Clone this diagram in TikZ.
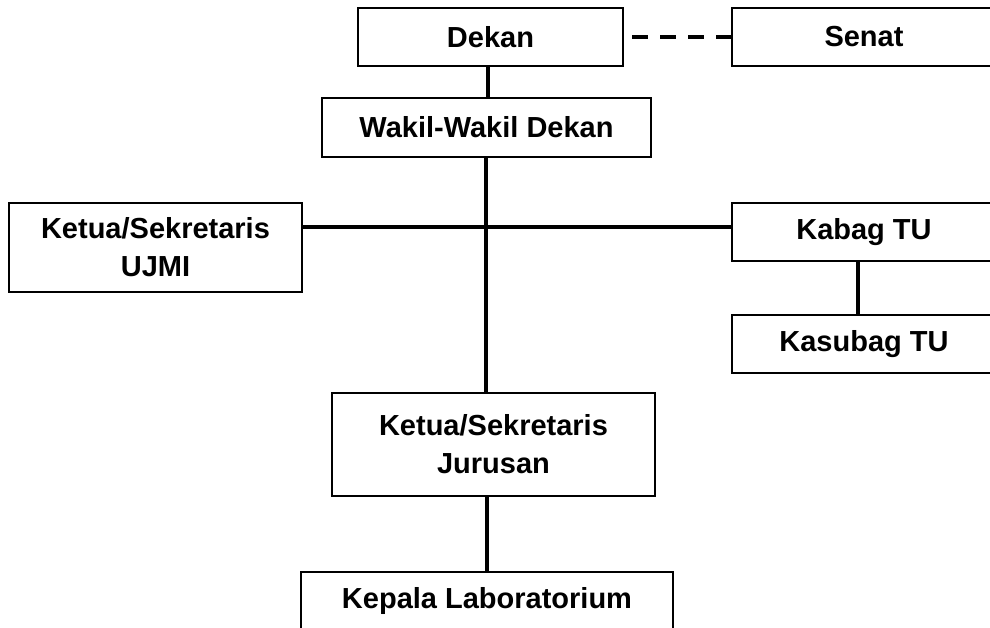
\documentclass[tikz,border=0pt]{standalone}
\usepackage{fontspec}
\setmainfont{Liberation Sans}
\usetikzlibrary{positioning, calc}

\begin{document}
\begin{tikzpicture}[
  x=1pt, y=-1pt,
  orgbox/.style={draw=black, fill=white, line width=2pt, inner sep=0pt,
    outer sep=0pt, align=center, minimum height=58pt,
    font=\fontsize{29}{38}\selectfont\bfseries},
  link/.style={draw=black, line width=3.3pt},
]

% Frame
\path[use as bounding box, clip] (0,0) rectangle (990,628);
\fill[white] (0,0) rectangle (990,628);

% ========================================
% Pimpinan
% ========================================
\node[orgbox, minimum width=265pt] (dekan) at (490.5,37) {Dekan};
\node[orgbox, minimum width=264pt] (senat) at (864,37) {Senat};
\node[orgbox, minimum width=329pt, minimum height=59pt] (wakil) at (486.5,127.5)
  {Wakil-Wakil Dekan};

% ========================================
% Unit samping
% ========================================
\node[orgbox, minimum width=293pt, minimum height=89pt] (ujmi) at (155.5,247.5)
  {Ketua/Sekretaris\\UJMI};
\node[orgbox, minimum width=264pt] (kabag) at (864,232) {Kabag TU};
\node[orgbox, minimum width=264pt] (kasubag) at (864,344) {Kasubag TU};

% ========================================
% Jurusan
% ========================================
\node[orgbox, minimum width=323pt, minimum height=103pt] (jurusan) at (493.5,444.5)
  {Ketua/Sekretaris\\Jurusan};
\node[orgbox, minimum width=372pt] (lab) at (487,600.5) {Kepala Laboratorium};

% Connectors
\coordinate (simpul) at (486,227);

\draw[link, dash pattern=on 16pt off 12pt, dash phase=19pt]
  (dekan.east) -- (senat.west);
\draw[link] ([xshift=-2.5pt]dekan.south) -- ([xshift=-2.5pt]dekan.south |- wakil.north);
\draw[link] ([xshift=-0.5pt]wakil.south) -- (simpul |- jurusan.north);
\draw[link] (ujmi.east |- simpul) -- (kabag.west |- simpul);
\draw[link] ([xshift=-6pt]kabag.south) -- ([xshift=-6pt]kasubag.north);
\draw[link] (jurusan.south -| lab.north) -- (lab.north);

\end{tikzpicture}
\end{document}
